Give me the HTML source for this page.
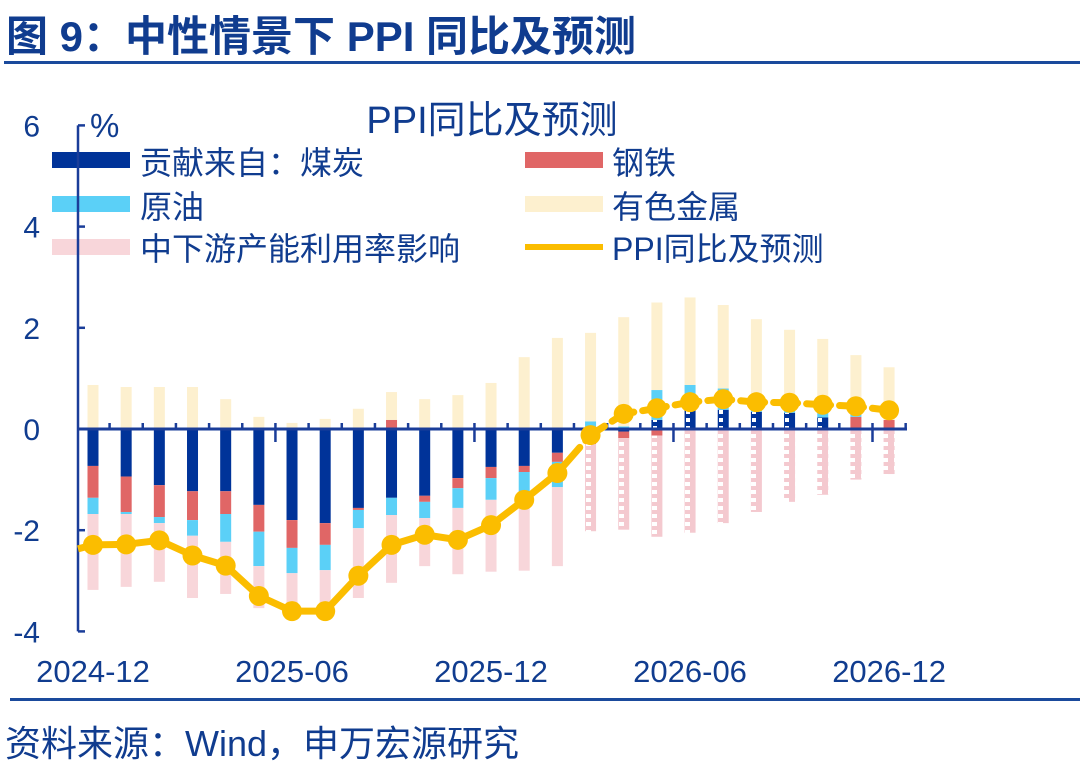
<!DOCTYPE html>
<html><head><meta charset="utf-8"><style>
body{margin:0;background:#fff;width:1080px;height:765px;overflow:hidden;font-family:"Liberation Sans","Noto Sans CJK SC",sans-serif;}
svg text{font-family:"Liberation Sans","Noto Sans CJK SC",sans-serif;fill:#103c8f;}
</style></head><body>
<svg id="chart" width="1080" height="765">
<defs>
<pattern id="pinkPat" width="11" height="8" patternUnits="userSpaceOnUse"><rect width="11" height="8" fill="#f4c9cf"/><rect x="3" y="2" width="5" height="4" fill="#fff"/></pattern>
<pattern id="coalPat" width="11" height="8" patternUnits="userSpaceOnUse"><rect width="11" height="8" fill="#003399"/><rect x="4" y="2" width="4" height="4" fill="#fff"/></pattern>
</defs>
<text x="6" y="51" font-size="42" font-weight="bold">图 9：中性情景下 PPI 同比及预测</text>
<rect x="4" y="61" width="1076" height="3" fill="#1a4a9c"/>
<text x="492" y="133" font-size="38" text-anchor="middle">PPI同比及预测</text>
<text x="90" y="137" font-size="33">%</text>
<g id="legend">
<rect x="52" y="152" width="78" height="16" fill="#003399"/>
<text x="140" y="174" font-size="32">贡献来自：煤炭</text>
<rect x="525" y="152" width="78" height="16" fill="#e06666"/>
<text x="612" y="174" font-size="32">钢铁</text>
<rect x="52" y="196" width="78" height="16" fill="#5bd0f7"/>
<text x="140" y="218" font-size="32">原油</text>
<rect x="525" y="196" width="78" height="16" fill="#fdf0cf"/>
<text x="612" y="218" font-size="32">有色金属</text>
<rect x="52" y="239" width="78" height="16" fill="#f8d6da"/>
<text x="140" y="260" font-size="32">中下游产能利用率影响</text>
<line x1="525" y1="247" x2="603" y2="247" stroke="#fbbd00" stroke-width="6"/>
<text x="612" y="260" font-size="32">PPI同比及预测</text>
</g>
<g id="plot"></g>
<rect x="10" y="698" width="1070" height="3" fill="#1a4a9c"/>
<text x="5" y="756" font-size="36">资料来源：Wind，申万宏源研究</text>
</svg>
<script>
const months=["2024-12","2025-01","2025-02","2025-03","2025-04","2025-05","2025-06","2025-07","2025-08","2025-09","2025-10","2025-11","2025-12","2026-01","2026-02","2026-03","2026-04","2026-05","2026-06","2026-07","2026-08","2026-09","2026-10","2026-11","2026-12"];
const xTickLabels=["2024-12","2025-06","2025-12","2026-06","2026-12"];
const yTicks=[6,4,2,0,-2,-4];
const coal=[-0.73,-0.94,-1.11,-1.23,-1.23,-1.5,-1.8,-1.86,-1.56,-1.36,-1.32,-0.97,-0.75,-0.73,-0.47,-0.1,-0.05,0.18,0.38,0.38,0.34,0.32,0.23,0,0];
const steel=[-0.63,-0.7,-0.63,-0.57,-0.45,-0.53,-0.55,-0.43,-0.04,0.18,-0.12,-0.2,-0.22,-0.12,-0.18,-0.2,-0.13,-0.13,0,0,0,0,0,0.24,0.18];
const oil=[-0.32,-0.04,-0.12,-0.31,-0.55,-0.68,-0.5,-0.5,-0.36,-0.34,-0.32,-0.39,-0.43,-0.53,-0.5,0.15,0.05,0.59,0.49,0.42,0.3,0.25,0.2,0.1,0];
const nonferrous=[0.87,0.83,0.83,0.83,0.59,0.24,0.12,0.2,0.4,0.55,0.59,0.67,0.91,1.42,1.8,1.75,2.16,1.73,1.73,1.65,1.53,1.39,1.35,1.12,1.04];
const downstream=[-1.5,-1.44,-1.16,-1.23,-1.03,-0.83,-0.85,-0.65,-1.38,-1.34,-0.95,-1.31,-1.42,-1.42,-1.56,-1.72,-1.81,-2.0,-2.05,-1.86,-1.64,-1.44,-1.3,-1.0,-0.89];
const ppi=[-2.29,-2.28,-2.2,-2.5,-2.7,-3.3,-3.6,-3.6,-2.9,-2.29,-2.09,-2.19,-1.9,-1.4,-0.87,-0.12,0.3,0.41,0.53,0.59,0.53,0.52,0.48,0.45,0.37];
const forecastStart=15;

const NS="http://www.w3.org/2000/svg";
const plot=document.getElementById('plot');
const X0=93,DX=33.17,Y0=429,PX=50.6,AX=78;
const xs=i=>X0+i*DX;
const ys=v=>Y0-v*PX;
function mk(tag,attrs,parent){const e=document.createElementNS(NS,tag);for(const k in attrs)e.setAttribute(k,attrs[k]);(parent||plot).appendChild(e);return e;}

const series=[["coal",coal,"#003399","url(#coalPat)"],["steel",steel,"#e06666","#e06666"],["oil",oil,"#5bd0f7","#5bd0f7"],["nonferrous",nonferrous,"#fdf0cf","#fdf0cf"],["downstream",downstream,"#f8d6da","url(#pinkPat)"]];
months.forEach((m,i)=>{
  let pos=0,neg=0;
  series.forEach(([name,arr,col,fcol])=>{
    const v=arr[i];if(!v)return;
    let y0,y1;
    if(v>0){y0=pos;y1=pos+v;pos=y1;}else{y0=neg;y1=neg+v;neg=y1;}
    const r=mk('rect',{x:xs(i)-5.5,y:Math.min(ys(y0),ys(y1)),width:11,height:Math.abs(ys(y1)-ys(y0)),fill:i>=forecastStart?fcol:col});
    
    
  });
});

const xa=mk('line',{x1:AX,y1:Y0,x2:907,y2:Y0,stroke:"#1a3d99","stroke-width":3});


for(let i=0;i<months.length;i++){
  const bx=xs(i)+DX/2;
  const major=(i%6===5);
  const t=mk('line',{x1:bx,y1:major?Y0+13:Y0,x2:bx,y2:Y0-6,stroke:"#1a3d99","stroke-width":2.5});
  
  
}
xTickLabels.forEach(l=>{
  const i=months.indexOf(l);
  const t=mk('text',{x:xs(i),y:682,"font-size":31,"text-anchor":"middle"});
  t.textContent=l;
  
  
});
const ya=mk('line',{x1:AX,y1:ys(6),x2:AX,y2:ys(-4),stroke:"#1a3d99","stroke-width":2.5});


yTicks.forEach(v=>{
  const t=mk('line',{x1:AX,y1:ys(v),x2:AX+7,y2:ys(v),stroke:"#1a3d99","stroke-width":2.5});
  
  
  const l=mk('text',{x:40,y:ys(v)+11,"font-size":30,"text-anchor":"end"});
  l.textContent=v;
  
  
});

let d1="M"+AX+","+(ys(ppi[0])+4);
for(let i=0;i<forecastStart;i++)d1+=" L"+xs(i)+","+ys(ppi[i]);
const l1=mk('path',{d:d1,fill:"none",stroke:"#fbbd00","stroke-width":7,"stroke-linejoin":"round"});


let d2="M"+xs(forecastStart-1)+","+ys(ppi[forecastStart-1]);
for(let i=forecastStart;i<months.length;i++)d2+=" L"+xs(i)+","+ys(ppi[i]);
const l2=mk('path',{d:d2,fill:"none",stroke:"#fbbd00","stroke-width":7,"stroke-linecap":"round","stroke-dasharray":"24,9","stroke-dashoffset":"-10"});


ppi.forEach((v,i)=>{
  const c=mk('circle',{cx:xs(i),cy:ys(v),r:10,fill:"#fbbd00"});
  
  
});
</script>
</body></html>
